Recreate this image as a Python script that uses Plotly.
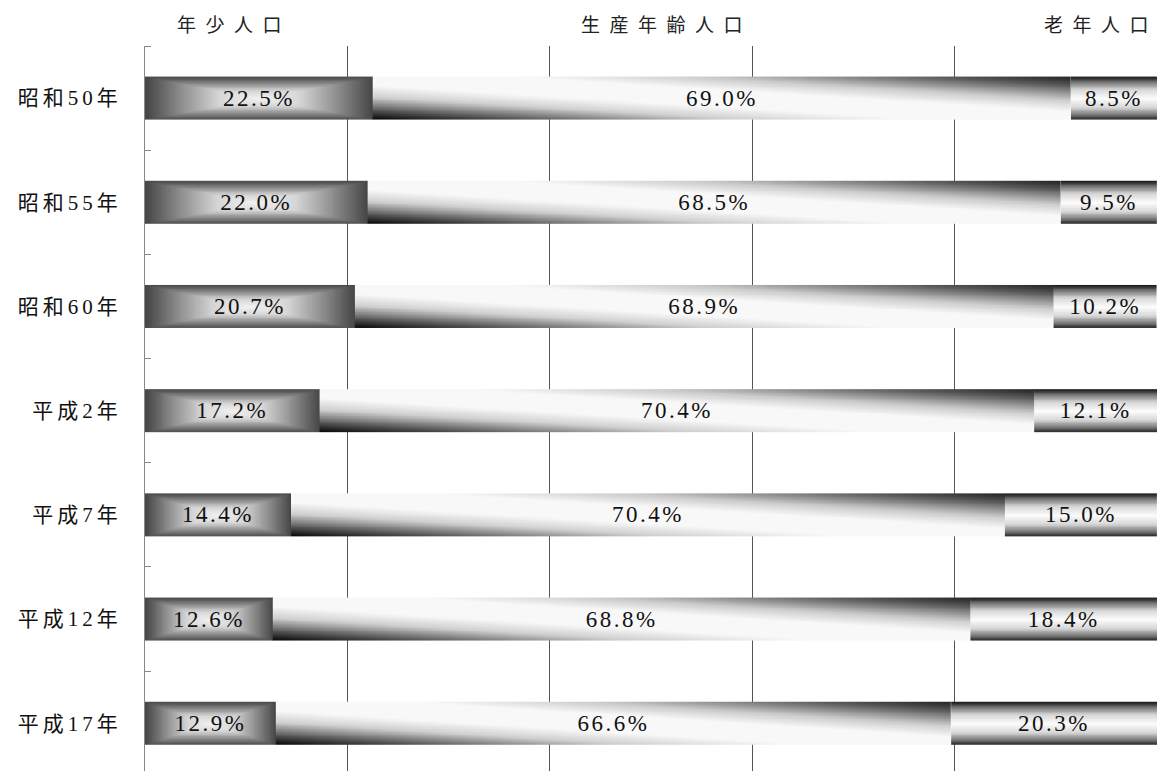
import numpy as np
import plotly.graph_objects as go

# ---- data ----
categories = ["昭和50年", "昭和55年", "昭和60年", "平成2年", "平成7年", "平成12年", "平成17年"]
young = [22.5, 22.0, 20.7, 17.2, 14.4, 12.6, 12.9]
working = [69.0, 68.5, 68.9, 70.4, 70.4, 68.8, 66.6]
elderly = [8.5, 9.5, 10.2, 12.1, 15.0, 18.4, 20.3]
series_names = ["年少人口", "生産年齢人口", "老年人口"]

# ---- style ----
W, H = 1159, 771
ML, MR, MT, MB = 145, 2, 46, 0
BAR_W = 0.413
SERIF = "Liberation Serif, Noto Sans CJK JP"
CJK_FONT = "Noto Sans CJK JP"

young_scale = [[0, "#f2f2f2"], [0.35, "#d6d6d6"], [0.7, "#8a8a8a"], [1, "#444444"]]
work_scale = [[0, "#000000"], [0.1, "#4a4a4a"], [0.27, "#d0d0d0"], [0.4, "#f8f8f8"],
              [0.6, "#f8f8f8"], [0.73, "#cccccc"], [0.9, "#5a5a5a"], [1, "#222222"]]
old_scale = [[0, "#161616"], [0.12, "#777777"], [0.3, "#d8d8d8"], [0.5, "#fdfdfd"],
             [0.7, "#d8d8d8"], [0.88, "#777777"], [1, "#111111"]]
scales = [young_scale, work_scale, old_scale]


def shade(kind, u, wb):
    U, WB = np.meshgrid(u, wb)
    if kind == 0:
        return np.maximum(np.abs(2 * U - 1), np.abs(2 * WB - 1))
    if kind == 1:
        return (U + WB) / 2
    return WB


def spaced(s, px):
    return f'<span style="letter-spacing:{px}px">{s}</span>'


fig = go.Figure()
ypos = list(range(len(categories)))

for i, (a, b, c) in enumerate(zip(young, working, elderly)):
    vals = [a, b, c]
    bounds = np.concatenate([[0], np.cumsum(vals)]) / sum(vals) * 100
    for k in range(3):
        x0, x1 = bounds[k], bounds[k + 1]
        nx, ny = 90, 30
        xe = np.linspace(x0, x1, nx + 1)
        ye = np.linspace(i - BAR_W / 2, i + BAR_W / 2, ny + 1)
        u = (np.arange(nx) + 0.5) / nx
        wb = 1 - (np.arange(ny) + 0.5) / ny  # fraction from visual bottom (axis reversed)
        z = shade(k, u, wb)
        fig.add_trace(go.Heatmap(
            x=xe, y=ye, z=z, zmin=0, zmax=1, colorscale=scales[k],
            showscale=False, hoverinfo="skip", zsmooth="best"))

for k, vals in enumerate([young, working, elderly]):
    fig.add_trace(go.Bar(
        x=vals, y=ypos, orientation="h", width=BAR_W, name=series_names[k],
        marker=dict(color="rgba(0,0,0,0)", line=dict(width=0)),
        text=[spaced(f"{v:.1f}%", 2.5) for v in vals], textposition="inside",
        insidetextanchor="middle", constraintext="none",
        textfont=dict(family=SERIF, size=23, color="#111111"),
        hoverinfo="skip", showlegend=False))

# header labels (legend-like)
header_px = [229.5, 662, 1096]
for name, px in zip(series_names, header_px):
    fig.add_annotation(
        text="\u2002".join(name), x=(px - ML) / (W - ML - MR), y=1,
        xref="paper", yref="paper", xanchor="center", yanchor="middle",
        yshift=23, showarrow=False,
        font=dict(family=CJK_FONT, size=19, color="#222222"))

fig.update_layout(
    width=W, height=H, margin=dict(l=ML, r=MR, t=MT, b=MB),
    barmode="stack", barnorm="percent",
    plot_bgcolor="white", paper_bgcolor="white",
    showlegend=False,
    xaxis=dict(range=[0, 100], tickvals=[0, 20, 40, 60, 80, 100], showgrid=True,
               gridcolor="#555555", gridwidth=1, showticklabels=False,
               zeroline=False, showline=False, ticks=""),
    yaxis=dict(range=[len(categories) - 0.542, -0.5], tickvals=ypos,
               ticktext=[spaced(c, 4) for c in categories],
               ticks="", showgrid=False, zeroline=False, showline=True,
               linecolor="#888888", linewidth=1, ticklabelstandoff=18,
               tickfont=dict(family=SERIF, size=21, color="#111111"),
               minor=dict(tickmode="array", tickvals=[k - 0.5 for k in range(len(categories) + 1)],
                          ticks="inside", ticklen=6, tickcolor="#888888", showgrid=False)),
)

fig.write_html("out.html", config={"displayModeBar": False},
               post_script="document.body.style.margin='0';")
